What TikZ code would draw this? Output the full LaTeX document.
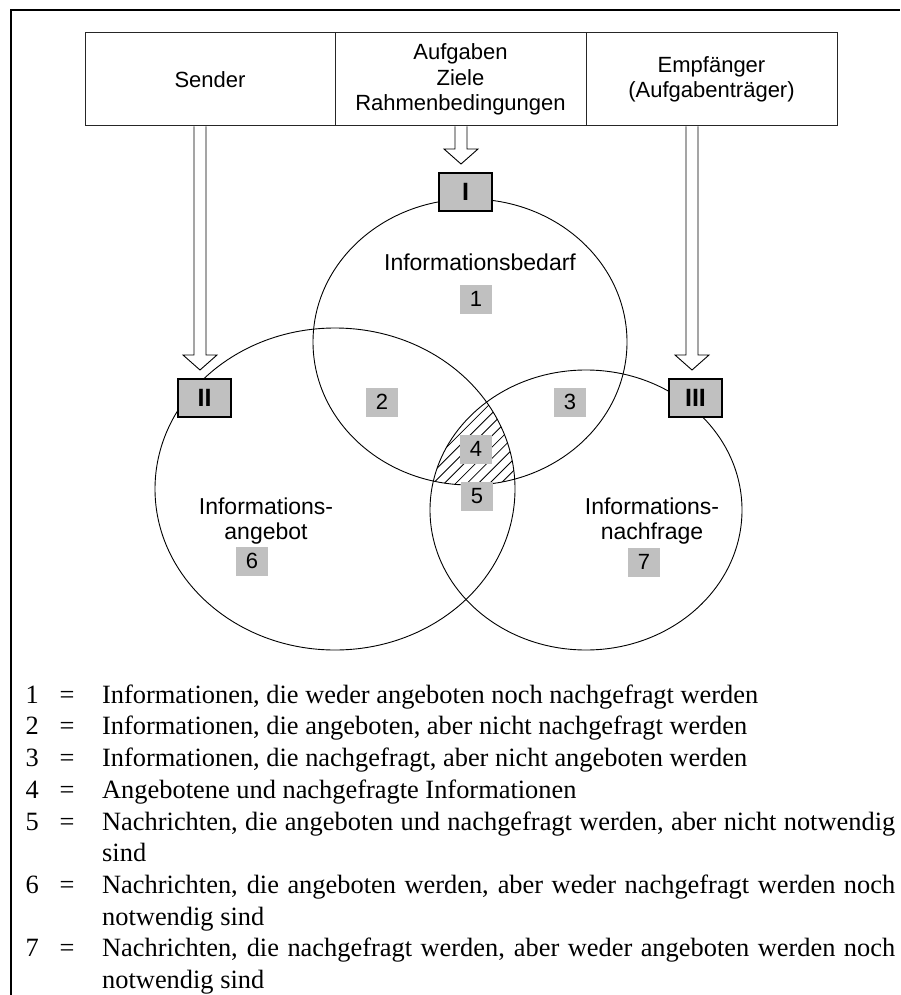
\documentclass[tikz,border=0pt]{standalone}
\usepackage{fontspec}
\setmainfont{Liberation Serif}
\setsansfont{Liberation Sans}
\usepackage{array}
\usetikzlibrary{calc}
\definecolor{numgray}{HTML}{C0C0C0}
\hyphenpenalty=10000
\exhyphenpenalty=10000
\newcommand\hollowarrow[2]{%
  \draw[hollow] ($(#1)+(-6,0)$) -- ($(#2)+(-6,-15)$) -- ($(#2)+(-17,-15)$) -- (#2)
    -- ($(#2)+(17,-15)$) -- ($(#2)+(6,-15)$) -- ($(#1)+(6,0)$);}
\begin{document}
\begin{tikzpicture}[x=1pt,y=-1pt,
  cell/.style={draw=black!85, line width=1pt, minimum height=93pt, inner sep=0pt,
    align=center, font=\sffamily\fontsize{22}{25.3}\selectfont},
  lbl/.style={font=\sffamily\fontsize{23}{25}\selectfont, align=center, inner sep=0pt},
  numbox/.style={fill=numgray, minimum width=32pt, minimum height=29pt, inner sep=0pt,
    font=\sffamily\fontsize{22}{22}\selectfont},
  romanbox/.style={fill=numgray, draw=black, line width=1.2pt, minimum width=53pt,
    minimum height=38pt, inner sep=0pt, font=\sffamily\bfseries\fontsize{25}{25}\selectfont},
  ring/.style={draw=black, line width=0.9pt},
  hollow/.style={draw=black, line width=0.9pt, fill=white},
]
\useasboundingbox (0,0) rectangle (900,995);
\fill[white] (0,0) rectangle (900,995);
\draw[line width=2pt] (11,995) -- (11,10) -- (900,10);

% header cells
\node[cell, minimum width=250pt] (sender) at (210,79.5) {Sender};
\node[cell, minimum width=251pt] (tasks) at (460.5,79.5) {Aufgaben\\Ziele\\Rahmenbedingungen};
\node[cell, minimum width=251pt] (recv) at (711.5,79.5) {Empfänger\\(Aufgabenträger)};

% hatched triple intersection
\begin{scope}
  \clip (470,342) ellipse [x radius=157pt, y radius=143pt];
  \clip (335,489) ellipse [x radius=180pt, y radius=161pt];
  \clip (586,510) ellipse [x radius=156pt, y radius=140pt];
  \foreach \k in {0,...,15} \draw[line width=0.8pt] ({330+\k*11.3},530) -- ++(150,-150);
\end{scope}

% circles
\draw[ring] (470,342) ellipse [x radius=157pt, y radius=143pt];
\draw[ring] (335,489) ellipse [x radius=180pt, y radius=161pt];
\draw[ring] (586,510) ellipse [x radius=156pt, y radius=140pt];

% labels
\node[lbl] (bedarf) at (480,262) {Informationsbedarf};
\node[lbl] (angebot) at (266,521) {Informations-\\angebot};
\node[lbl] (nachfrage) at (652,521) {Informations-\\nachfrage};

% number boxes
\node[numbox] (n1) at (476,299) {1};
\node[numbox] (n2) at (382,402) {2};
\node[numbox] (n3) at (570,402) {3};
\node[numbox] (n4) at (476,449) {4};
\node[numbox] (n5) at (477,496) {5};
\node[numbox] (n6) at (252,561) {6};
\node[numbox] (n7) at (644,562) {7};

% roman boxes
\node[romanbox] (rI) at (465.5,192) {I};
\node[romanbox] (rII) at (204.5,398) {II};
\node[romanbox] (rIII) at (695.5,398) {III};

% hollow arrows
\coordinate (a1s) at (200,126.5);
\coordinate (a1t) at (200,370);
\coordinate (a2s) at (461,126.5);
\coordinate (a2t) at (461,164);
\coordinate (a3s) at (692,126.5);
\coordinate (a3t) at (692,370);
\hollowarrow{a1s}{a1t}
\hollowarrow{a2s}{a2t}
\hollowarrow{a3s}{a3t}

% legend
\node[anchor=north west, inner sep=0pt, font=\fontsize{26.4}{31.7}\selectfont] (legend) at (14,680.8) {%
\begin{tabular}{@{}>{\centering\arraybackslash}p{36pt}@{}>{\centering\arraybackslash}p{34pt}@{\hspace{18pt}}p{793pt}@{}}
1 & = & Informationen, die weder angeboten noch nachgefragt werden\\
2 & = & Informationen, die angeboten, aber nicht nachgefragt werden\\
3 & = & Informationen, die nachgefragt, aber nicht angeboten werden\\
4 & = & Angebotene und nachgefragte Informationen\\
5 & = & Nachrichten, die angeboten und nachgefragt werden, aber nicht notwendig sind\\
6 & = & Nachrichten, die angeboten werden, aber weder nachgefragt werden noch notwendig sind\\
7 & = & Nachrichten, die nachgefragt werden, aber weder angeboten werden noch notwendig sind\\
\end{tabular}};
\end{tikzpicture}
\end{document}
